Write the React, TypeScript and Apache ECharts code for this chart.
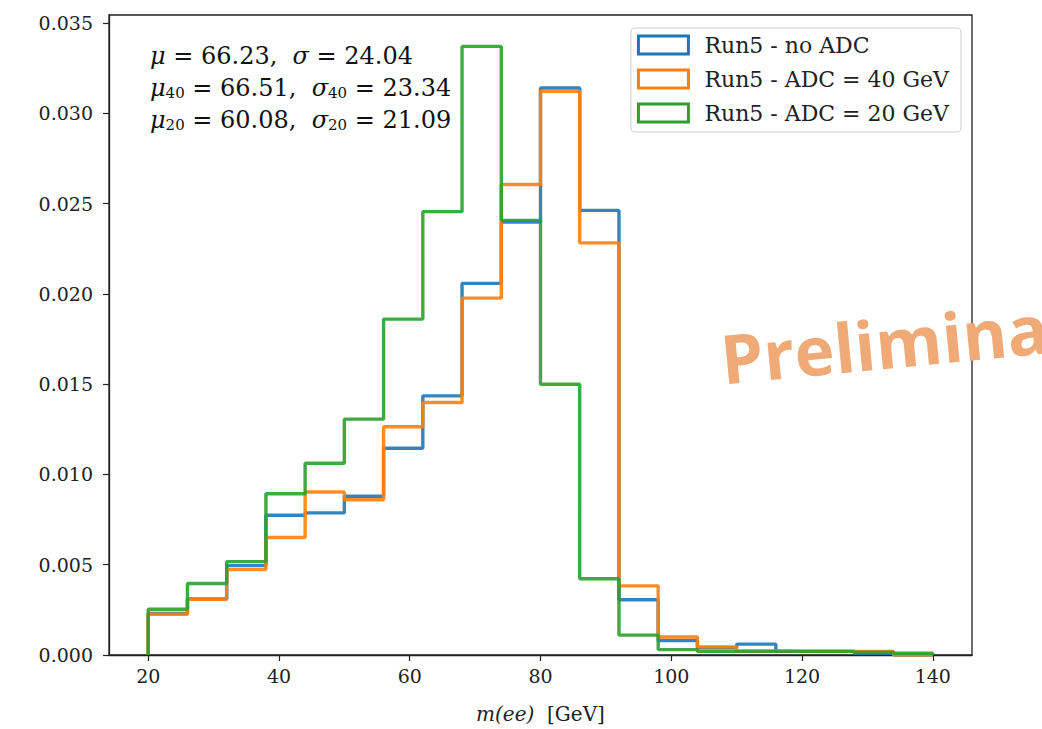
import { useEffect, useRef } from "react";
import * as echarts from "echarts";

const binEdges = [20, 26, 32, 38, 44, 50, 56, 62, 68, 74, 80, 86, 92, 98, 104, 110, 116, 122, 128, 134, 140];
const noAdc = [0.0023, 0.0031, 0.00495, 0.00774, 0.00787, 0.00879, 0.01145, 0.01435, 0.02058, 0.02398, 0.0314, 0.02462, 0.00306, 0.0008, 0.0004, 0.0006, 0.0002, 0.0002, 0.0001, 0.0];
const adc40 = [0.00226, 0.00308, 0.00473, 0.00651, 0.00903, 0.0086, 0.01264, 0.01398, 0.01976, 0.02605, 0.03122, 0.02282, 0.00383, 0.001, 0.00045, 0.00022, 0.0002, 0.0002, 0.0002, 0.0];
const adc20 = [0.00253, 0.00396, 0.00517, 0.00893, 0.01062, 0.01306, 0.0186, 0.02455, 0.0337, 0.02407, 0.01499, 0.00422, 0.0011, 0.0003, 0.0002, 0.0002, 0.0002, 0.0002, 0.00015, 0.0001];
const seriesNames = ["Run5 - no ADC", "Run5 - ADC = 40 GeV", "Run5 - ADC = 20 GeV"];
const seriesColors = ["#1f77b4", "#ff7f0e", "#2ca02c"];
const xTicks = [20, 40, 60, 80, 100, 120, 140];
const yTicks = [0, 0.005, 0.01, 0.015, 0.02, 0.025, 0.03, 0.035];
const statLines = [
  "{m|μ} = 66.23,  {m|σ} = 24.04",
  "{m|μ}{s|40} = 66.51,  {m|σ}{s|40} = 23.34",
  "{m|μ}{s|20} = 60.08,  {m|σ}{s|20} = 21.09",
];
const watermark = "Preliminary";

function stepPoints(edges: number[], vals: number[]) {
  const pts: number[][] = [[edges[0], 0]];
  vals.forEach((v, i) => {
    pts.push([edges[i], v]);
    pts.push([edges[i + 1], v]);
  });
  pts.push([edges[edges.length - 1], 0]);
  return pts;
}

export default function App() {
  const ref = useRef<HTMLDivElement>(null);
  useEffect(() => {
    document.body.style.margin = "0";
    const chart = echarts.init(ref.current!, null, { renderer: "svg" });
    const serif = "'DejaVu Serif', serif";
    const allVals = [noAdc, adc40, adc20];
    chart.setOption({
      animation: false,
      backgroundColor: "#fff",
      grid: {
        left: 109, right: 70, top: 15, bottom: 70,
        show: true, borderColor: "#222", borderWidth: 1.3, backgroundColor: "transparent",
      },
      xAxis: {
        type: "value", min: 14, max: 146,
        axisLine: { show: true, lineStyle: { color: "#222", width: 1.3 } },
        axisTick: { show: true, customValues: xTicks, length: 6, lineStyle: { color: "#222", width: 1.2 } },
        axisLabel: { customValues: xTicks, fontFamily: serif, fontSize: 19, color: "#222", margin: 11 },
        splitLine: { show: false },
        name: "{i|m(ee)}  [GeV]",
        nameLocation: "middle",
        nameGap: 49,
        nameTextStyle: {
          fontFamily: serif, fontSize: 20, color: "#222",
          rich: { i: { fontFamily: serif, fontStyle: "italic", fontSize: 20, color: "#222" } },
        },
      },
      yAxis: {
        type: "value", min: 0, max: 0.03544,
        axisLine: { show: true, lineStyle: { color: "#222", width: 1.3 } },
        axisTick: { show: true, customValues: yTicks, length: 6, lineStyle: { color: "#222", width: 1.2 } },
        axisLabel: {
          customValues: yTicks, fontFamily: serif, fontSize: 19, color: "#222", margin: 16,
          formatter: (v: number) => v.toFixed(3),
        },
        splitLine: { show: false },
      },
      legend: {
        orient: "vertical",
        right: 81, top: 28,
        padding: [6, 12, 8, 6],
        itemGap: 12,
        itemWidth: 50, itemHeight: 18,
        icon: "rect",
        backgroundColor: "#fff",
        borderColor: "#d0d0d0", borderWidth: 1, borderRadius: 4,
        textStyle: { fontFamily: serif, fontSize: 22, color: "#222", padding: [0, 0, 0, 11] },
        itemStyle: { color: "#fff", borderWidth: 3 },
        data: seriesNames.map((n, i) => ({
          name: n,
          itemStyle: { color: "#fff", borderColor: seriesColors[i], borderWidth: 3 },
        })),
      },
      series: seriesNames.map((n, i) => ({
        name: n,
        type: "line",
        data: stepPoints(binEdges, allVals[i]),
        showSymbol: false,
        symbol: "none",
        color: seriesColors[i],
        lineStyle: { color: seriesColors[i], width: 3.4, opacity: 0.9 },
        z: 2 + i,
      })),
      graphic: [
        ...statLines.map((t, i) => ({
          type: "text",
          left: 150,
          top: 44 + i * 32,
          z: 10,
          style: {
            text: t,
            fontFamily: serif,
            fontSize: 24,
            fill: "#111",
            rich: {
              m: { fontFamily: serif, fontStyle: "italic", fontSize: 24, fill: "#111" },
              s: { fontFamily: serif, fontSize: 15, fill: "#111", padding: [9, 0, 0, 0] },
            },
          },
        })),
        {
          type: "text",
          x: 724,
          y: 392,
          rotation: (5.5 * Math.PI) / 180,
          z: 20,
          style: {
            text: watermark,
            fontFamily: "'Open Sans', sans-serif",
            fontWeight: "bold",
            fontSize: 68,
            fill: "#f0aa78",
            textVerticalAlign: "bottom",
          },
        },
      ],
    });
    return () => chart.dispose();
  }, []);
  return <div ref={ref} style={{ width: 1042, height: 729 }} />;
}
